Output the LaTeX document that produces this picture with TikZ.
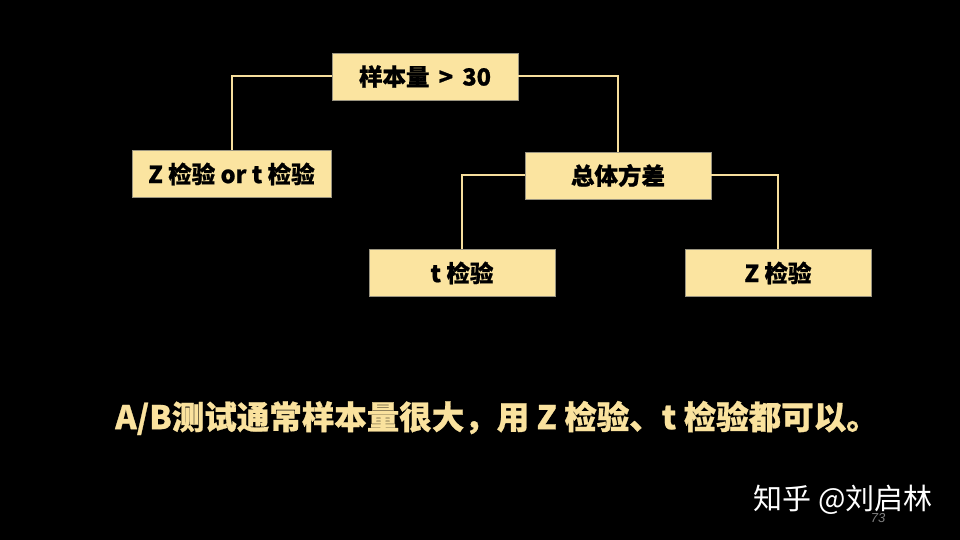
\documentclass[tikz,border=0pt]{standalone}
\usepackage{fontspec}
\setmainfont{Noto Sans CJK SC}
\newfontfamily\cjk{Noto Sans CJK SC}[BoldFeatures={FakeBold=0.8}]
\newfontfamily\lsans{Liberation Sans}
\definecolor{boxfill}{HTML}{FBE4A0}
\definecolor{boxline}{HTML}{9A9480}
\definecolor{conn}{HTML}{F6DE9C}
\definecolor{txtyellow}{HTML}{FAE29E}
\tikzset{
  box/.style={draw=boxline, line width=0.8pt, fill=boxfill, minimum width=186pt, minimum height=47pt, inner sep=0pt, font=\cjk\bfseries\fontsize{23.5}{28}\selectfont, text=black},
  conline/.style={draw=conn, line width=2pt}
}
\begin{document}
\begin{tikzpicture}[x=1pt,y=1pt]
\fill[black] (0,0) rectangle (960,540);
\useasboundingbox (0,0) rectangle (960,540);
\node[box] (top) at (425,463.5) {样本量 \,>\, 30};
\node[box, minimum width=199pt] (left) at (231.5,366) {Z 检验 or t 检验};
\node[box] (var) at (618,364.5) {总体方差};
\node[box] (t) at (462,267) {t 检验};
\node[box] (z) at (778,267) {Z 检验};
\draw[conline] (top.west) -| (left.north);
\draw[conline] (top.east) -| (var.north);
\draw[conline] (var.west) -| (t.north);
\draw[conline] (var.east) -| (z.north);
\node[text=txtyellow, font=\cjk\bfseries\fontsize{32.5}{38}\selectfont, inner sep=0pt] (note) at (497,122) {A/B测试通常样本量很大，用 Z 检验、t 检验都可以。};
\node[text=white, font=\cjk\fontsize{29}{34}\selectfont, inner sep=0pt] (mark) at (843,40) {知乎 @刘启林};
\node[text=gray, font=\lsans\itshape\fontsize{13}{15}\selectfont, inner sep=0pt] (page) at (878,22) {73};
\end{tikzpicture}
\end{document}
